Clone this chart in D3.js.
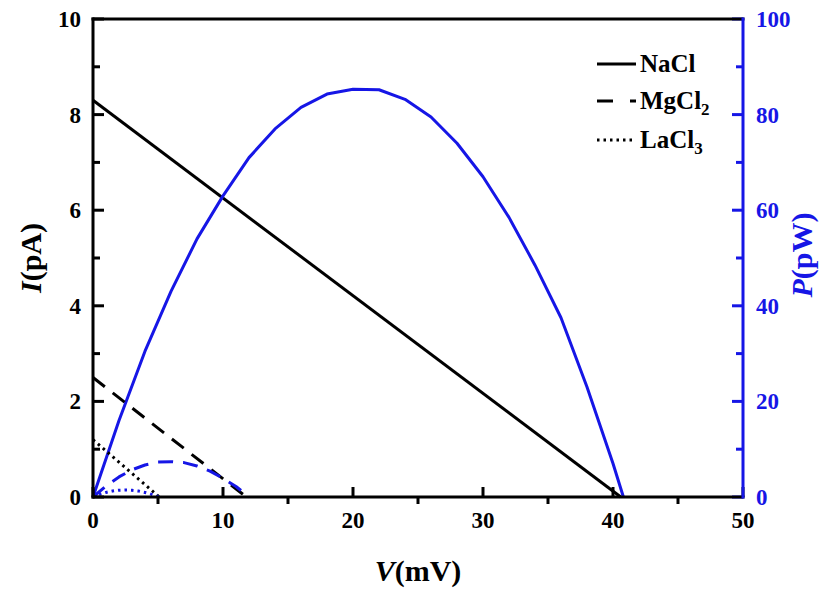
<!DOCTYPE html>
<html>
<head>
<meta charset="utf-8">
<script src="https://cdn.jsdelivr.net/npm/d3@7"></script>
<style>
  body { margin: 0; background: #fff; }
  text { font-family: "Liberation Serif", "Times New Roman", serif; font-weight: bold; }
</style>
</head>
<body>
<svg id="chart" width="826" height="589"></svg>
<script>
// values
const naclV = [0, 40.6];
const naclI = [8.3, 0];
const naclPV = [0, 2, 4, 6, 8, 10, 12, 14, 16, 18, 20, 22, 24, 26, 28, 30, 32, 34, 36, 38, 40, 40.8];
const naclP = [0, 16, 30.5, 43, 54, 63, 71, 77, 81.5, 84.3, 85.3, 85.2, 83.2, 79.5, 74, 67, 58.5, 48.5, 37.5, 23, 7, 0];

const mgV = [0, 11.8];
const mgI = [2.5, 0];
const mgPV = [0, 1, 2, 3, 4, 5, 6, 7, 8, 9, 10, 11, 12];
const mgP = [0, 2.3, 4.2, 5.7, 6.7, 7.3, 7.4, 7.2, 6.5, 5.4, 3.9, 2.2, 0];

const laV = [0, 5.1];
const laI = [1.2, 0];
const laPV = [0, 0.5, 1, 1.5, 2, 2.5, 3, 3.5, 4, 4.5, 5.1];
const laP = [0, 0.55, 0.96, 1.25, 1.42, 1.48, 1.41, 1.24, 0.95, 0.56, 0];

const legendNames = ["NaCl", "MgCl", "LaCl"];
const legendSubs = ["", "2", "3"];
const xTicks = [0, 10, 20, 30, 40, 50];
const xMinor = [5, 15, 25, 35, 45];
const yTicks = [0, 2, 4, 6, 8, 10];
const yMinor = [1, 3, 5, 7, 9];
const pTicks = [0, 20, 40, 60, 80, 100];
const pMinor = [10, 30, 50, 70, 90];

const svg = d3.select("#chart");
const m = { left: 93, right: 743, top: 19, bottom: 497 };
const blue = "#1616e6";

const x = d3.scaleLinear().domain([0, 50]).range([m.left, m.right]);
const y = d3.scaleLinear().domain([0, 10]).range([m.bottom, m.top]);
const yp = d3.scaleLinear().domain([0, 100]).range([m.bottom, m.top]);

const zip = (a, b) => a.map((v, i) => [v, b[i]]);
const lineI = d3.line().x(d => x(d[0])).y(d => y(d[1]));
const lineP = d3.line().x(d => x(d[0])).y(d => yp(d[1]));

const series = [
  { iv: naclV, i: naclI, pv: naclPV, p: naclP, dash: null },
  { iv: mgV, i: mgI, pv: mgPV, p: mgP, dash: "15,10" },
  { iv: laV, i: laI, pv: laPV, p: laP, dash: "2.5,4" }
];

const plot = svg.append("g");
series.forEach(s => {
  plot.append("path").datum(zip(s.iv, s.i))
    .attr("d", lineI).attr("fill", "none").attr("stroke", "#000")
    .attr("stroke-width", 3).attr("stroke-dasharray", s.dash);
  plot.append("path").datum(zip(s.pv, s.p))
    .attr("d", lineP).attr("fill", "none").attr("stroke", blue)
    .attr("stroke-width", 3).attr("stroke-dasharray", s.dash)
    .attr("stroke-linejoin", "round");
});

// ticks
const ticks = svg.append("g").attr("stroke-width", 3);
xTicks.forEach(v => ticks.append("line").attr("x1", x(v)).attr("x2", x(v))
  .attr("y1", m.bottom).attr("y2", m.bottom - 10).attr("stroke", "#000"));
xMinor.forEach(v => ticks.append("line").attr("x1", x(v)).attr("x2", x(v))
  .attr("y1", m.bottom).attr("y2", m.bottom + 7).attr("stroke", "#000"));
yTicks.forEach(v => ticks.append("line").attr("x1", m.left).attr("x2", m.left + 11)
  .attr("y1", y(v)).attr("y2", y(v)).attr("stroke", "#000"));
yMinor.forEach(v => ticks.append("line").attr("x1", m.left).attr("x2", m.left + 7)
  .attr("y1", y(v)).attr("y2", y(v)).attr("stroke", "#000"));
pTicks.forEach(v => ticks.append("line").attr("x1", m.right).attr("x2", m.right - 11)
  .attr("y1", yp(v)).attr("y2", yp(v)).attr("stroke", blue));
pMinor.forEach(v => ticks.append("line").attr("x1", m.right).attr("x2", m.right - 7)
  .attr("y1", yp(v)).attr("y2", yp(v)).attr("stroke", blue));

// frame
const frame = svg.append("g").attr("stroke-width", 3).attr("stroke-linecap", "square");
frame.append("line").attr("x1", m.left).attr("x2", m.right).attr("y1", m.top).attr("y2", m.top).attr("stroke", "#000");
frame.append("line").attr("x1", m.left).attr("x2", m.left).attr("y1", m.top).attr("y2", m.bottom).attr("stroke", "#000");
frame.append("line").attr("x1", m.left).attr("x2", m.right).attr("y1", m.bottom).attr("y2", m.bottom).attr("stroke", "#000");
frame.append("line").attr("x1", m.right).attr("x2", m.right).attr("y1", m.top).attr("y2", m.bottom).attr("stroke", blue);

// tick labels
const lab = svg.append("g").attr("font-size", 23);
xTicks.forEach(v => lab.append("text").attr("x", x(v)).attr("y", 528)
  .attr("text-anchor", "middle").text(v));
yTicks.forEach(v => lab.append("text").attr("x", 81).attr("y", y(v) + 8)
  .attr("text-anchor", "end").text(v));
pTicks.forEach(v => lab.append("text").attr("x", 756).attr("y", yp(v) + 8)
  .attr("fill", blue).text(v));

// axis titles
const xt = svg.append("text").attr("x", x(25)).attr("y", 581).attr("text-anchor", "middle")
  .attr("font-size", 30);
xt.append("tspan").attr("font-style", "italic").text("V");
xt.append("tspan").text("(mV)");

const yt = svg.append("text").attr("transform", "translate(41,258) rotate(-90)")
  .attr("text-anchor", "middle").attr("font-size", 30);
yt.append("tspan").attr("font-style", "italic").text("I");
yt.append("tspan").text("(pA)");

const pt = svg.append("text").attr("transform", "translate(812,255) rotate(-90)")
  .attr("text-anchor", "middle").attr("font-size", 30).attr("fill", blue);
pt.append("tspan").attr("font-style", "italic").text("P");
pt.append("tspan").text("(pW)");

// legend
const legY = [64, 101, 140];
const leg = svg.append("g");
series.forEach((s, i) => {
  leg.append("line").attr("x1", 597).attr("x2", 636).attr("y1", legY[i]).attr("y2", legY[i])
    .attr("stroke", "#000").attr("stroke-width", 3)
    .attr("stroke-dasharray", i === 1 ? "16,17" : s.dash);
  const t = leg.append("text").attr("x", 640).attr("y", legY[i] + 8).attr("font-size", 25);
  t.append("tspan").text(legendNames[i]);
  if (legendSubs[i]) t.append("tspan").attr("font-size", 17).attr("dy", 6).text(legendSubs[i]);
});
</script>
</body>
</html>
